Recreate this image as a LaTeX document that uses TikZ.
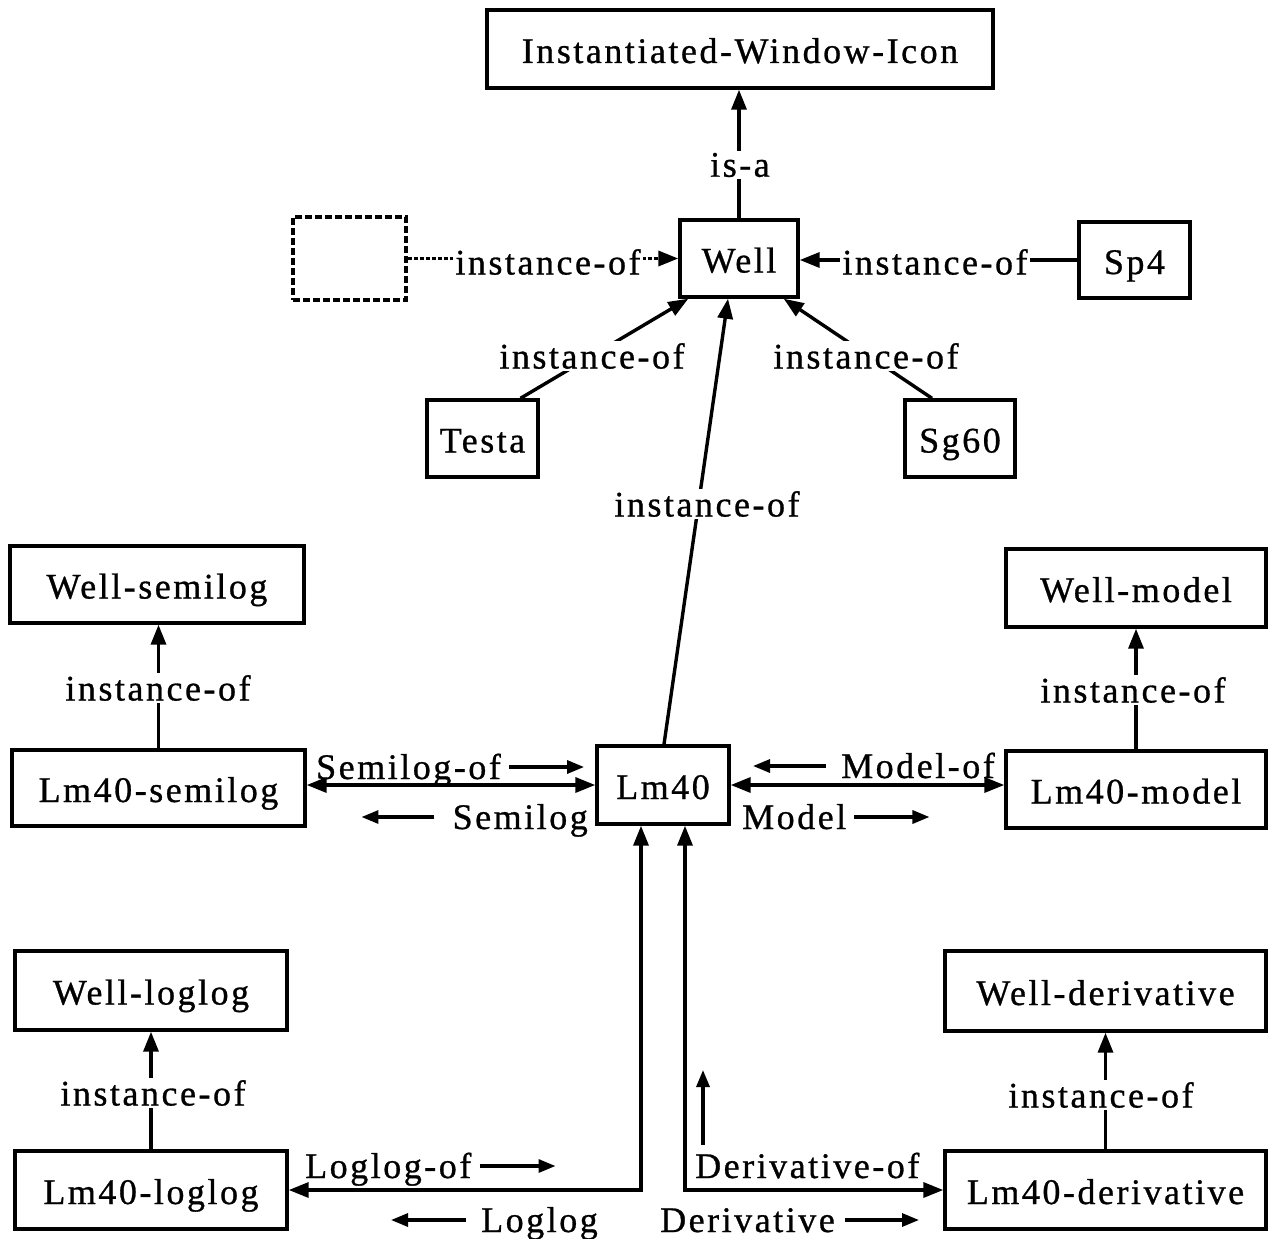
\documentclass[tikz,border=0pt]{standalone}
\usepackage{fontspec}
\setmainfont{Liberation Serif}[LetterSpace=7,FakeBold=0.8]
\usetikzlibrary{arrows.meta,calc}
\begin{document}
\begin{tikzpicture}[x=1pt,y=-1pt,
  fnt/.style={font=\fontsize{36}{40}\selectfont},
  box/.style={draw, line width=3.4pt, inner sep=0pt, text height=28pt, text depth=0pt, fnt},
  dbox/.style={box, dash pattern=on 7pt off 3pt},
  lbl/.style={fill=white, inner sep=2pt, fnt},
  txt/.style={inner sep=0pt, fnt},
  con/.style={line width=3.4pt},
  arr/.style={con, -{Triangle[length=20pt,width=15pt]}},
  darr/.style={con, {Triangle[length=20pt,width=15pt]}-{Triangle[length=20pt,width=15pt]}},
  sarr/.style={line width=3.2pt, -{Triangle[length=17pt,width=13pt]}}]
\useasboundingbox (0,0) rectangle (1274,1239);
\fill[white] (0,0) rectangle (1274,1239);

% boxes
\node[box, minimum width=506pt, minimum height=78pt] (iwi) at (740,49) {Instantiated-Window-Icon};
\node[box, minimum width=118pt, minimum height=77pt] (well) at (739,258.5) {Well};
\node[dbox, minimum width=113pt, minimum height=83pt] (blank) at (349.5,258.5) {};
\node[box, minimum width=111pt, minimum height=76pt] (sp4) at (1134.5,260) {Sp4};
\node[box, minimum width=111pt, minimum height=77pt] (testa) at (482.5,438.5) {Testa};
\node[box, minimum width=110pt, minimum height=77pt] (sg60) at (960,438.5) {Sg60};
\node[box, minimum width=294pt, minimum height=77pt] (wsemi) at (157,584.5) {Well-semilog};
\node[box, minimum width=260pt, minimum height=78pt] (wmodel) at (1136,588) {Well-model};
\node[box, minimum width=293pt, minimum height=76pt] (lsemi) at (158.5,788) {Lm40-semilog};
\node[box, minimum width=132pt, minimum height=78pt] (lm40) at (663,785) {Lm40};
\node[box, minimum width=260pt, minimum height=77pt] (lmodel) at (1136,789.5) {Lm40-model};
\node[box, minimum width=272pt, minimum height=79pt] (wlog) at (151,990.5) {Well-loglog};
\node[box, minimum width=321pt, minimum height=80pt] (wder) at (1105.5,991) {Well-derivative};
\node[box, minimum width=272pt, minimum height=78pt] (llog) at (151,1190) {Lm40-loglog};
\node[box, minimum width=321pt, minimum height=78pt] (lder) at (1105.5,1190) {Lm40-derivative};

% is-a
\draw[arr] (well.north) -- (iwi.south -| well.north);
\node[lbl] (lisa) at (740,165) {is-a};

% instance-of links to Well
\draw[arr, dash pattern=on 4pt off 2pt] (blank.east) -- (blank.east -| well.west);
\node[lbl] (lblank) at (548,262) {instance-of};
\draw[arr] (sp4.west) -- (sp4.west -| well.east);
\node[lbl] (lsp4) at (935,262) {instance-of};
\draw[arr] ($(testa.north)+(38,0)$) -- ($(well.south west)+(10,0)$);
\node[lbl] (ltesta) at (592,356) {instance-of};
\draw[arr] ($(sg60.north)+(-28,0)$) -- ($(well.south east)+(-16,0)$);
\node[lbl] (lsg60) at (866,356) {instance-of};
\draw[arr] ($(lm40.north)+(1,0)$) -- ($(well.south)+(-11,0)$);
\node[lbl] (llm40) at (707,504) {instance-of};

% column instance-of links
\draw[arr] (lsemi.north) -- (lsemi.north |- wsemi.south);
\node[lbl] (l1) at (158,688) {instance-of};
\draw[arr] (lmodel.north) -- (lmodel.north |- wmodel.south);
\node[lbl] (l2) at (1133,690) {instance-of};
\draw[arr] (llog.north) -- (llog.north |- wlog.south);
\node[lbl] (l3) at (153,1093) {instance-of};
\draw[arr] (lder.north) -- (lder.north |- wder.south);
\node[lbl] (l4) at (1101,1095) {instance-of};

% Semilog / Model
\draw[darr] (lsemi.east |- lm40.west) -- (lm40.west);
\draw[darr] (lm40.east) -- (lm40.east -| lmodel.west);
\node[txt, anchor=base west] (semof) at (316,779) {Semilog-of};
\draw[sarr] ($(semof.base east)+(8,-12)$) -- ++(75,0);
\node[txt, anchor=base east] (semi) at (588,829) {Semilog};
\draw[sarr] ($(semi.base west)+(-18,-12)$) -- ++(-73,0);
\node[txt, anchor=base east] (modof) at (995,778) {Model-of};
\draw[sarr] ($(modof.base west)+(-15,-12)$) -- ++(-73,0);
\node[txt, anchor=base west] (model) at (742,829) {Model};
\draw[sarr] ($(model.base east)+(8,-12)$) -- ++(75,0);

% Loglog / Derivative
\coordinate (lgs) at ($(lm40.south)+(-22,0)$);
\coordinate (dvs) at ($(lm40.south)+(22,0)$);
\draw[darr] (lgs) |- (llog.east);
\draw[darr] (dvs) |- (lder.west);
\node[txt, anchor=base west] (logof) at (305,1178) {Loglog-of};
\draw[sarr] ($(logof.base east)+(8,-12)$) -- ++(76,0);
\node[txt, anchor=base east] (loglog) at (598,1232) {Loglog};
\draw[sarr] ($(loglog.base west)+(-15,-12)$) -- ++(-75,0);
\node[txt, anchor=base west] (derof) at (695,1178) {Derivative-of};
\draw[sarr] ($(derof.base west)+(8,-33)$) -- ++(0,-75);
\node[txt, anchor=base east] (deriv) at (835,1232) {Derivative};
\draw[sarr] ($(deriv.base east)+(10,-12)$) -- ++(74,0);
\end{tikzpicture}
\end{document}
